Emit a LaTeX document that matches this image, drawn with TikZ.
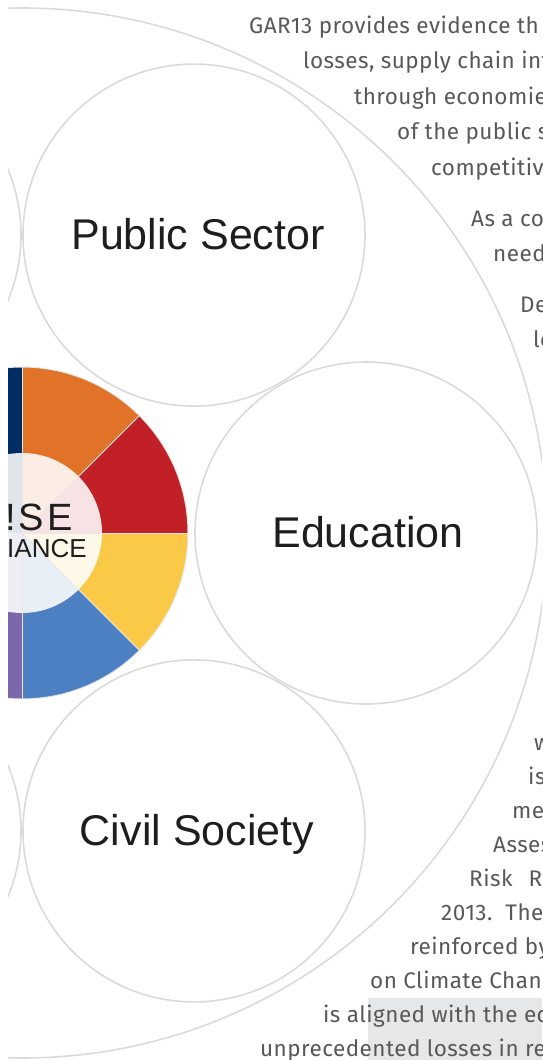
\documentclass[tikz,border=0pt]{standalone}
\usepackage{fontspec}
\setmainfont{Liberation Sans}
\newfontfamily\bodyfont[LetterSpace=2]{Fira Sans}
\usetikzlibrary{calc}
\definecolor{RingClr}{RGB}{218,218,218}
\definecolor{SepClr}{RGB}{232,232,232}
\definecolor{OrangeClr}{RGB}{225,115,41}
\definecolor{RedClr}{RGB}{192,32,38}
\definecolor{YellowClr}{RGB}{250,201,71}
\definecolor{BlueClr}{RGB}{77,128,194}
\definecolor{NavyClr}{RGB}{0,45,98}
\definecolor{PurpleClr}{RGB}{123,103,169}
\definecolor{LabelClr}{RGB}{30,30,30}
\definecolor{BodyClr}{RGB}{88,88,88}
\definecolor{MarkClr}{RGB}{230,231,233}

\tikzset{
  ring/.style={draw=RingClr,line width=1.6pt},
  sector label/.style={anchor=base,inner sep=0pt,text=LabelClr,font=\fontsize{43}{50}\selectfont},
  bodytext/.style={anchor=base west,inner sep=0pt,text=BodyClr,font=\bodyfont\fontsize{22.5}{27}\selectfont}
}

\begin{document}
\begin{tikzpicture}[x=1pt,y=-1pt]
\useasboundingbox (0,0) rectangle (542,1060);
\clip (8,0) rectangle (542,1060);

% centre of the wheel and the ring of circles
\coordinate (O) at (22,533);
\coordinate (P) at ($(O)+(-60:344)$);
\coordinate (E) at ($(O)+(0:344)$);
\coordinate (S) at ($(O)+(60:344)$);
\coordinate (L1) at ($(O)+(-120:344)$);
\coordinate (L2) at ($(O)+(120:344)$);

\fill[MarkClr] (368,998) rectangle (542,1060);

\draw[ring] (O) circle[radius=525];
\foreach \c in {P,E,S,L1,L2}
  \draw[ring] (\c) circle[radius=171];

% wheel
\foreach \a/\b/\clr in {-90/-45/OrangeClr,-45/0/RedClr,0/45/YellowClr,45/90/BlueClr,-180/-90/NavyClr,90/180/PurpleClr}
  \fill[\clr] (O) -- ++(\a:166) arc[start angle=\a,end angle=\b,radius=166] -- cycle;
\fill[white,fill opacity=.88] (O) circle[radius=80];
\foreach \a in {-90,-45,0,45,90}
  \draw[SepClr,line width=1pt] (O) -- ++(\a:166);
\draw[SepClr,line width=1pt] (O) circle[radius=166];

\node[anchor=base west,inner sep=0pt,text=LabelClr,font=\fontsize{38}{40}\selectfont\addfontfeature{LetterSpace=8}] (logoA) at (5,530) {!SE};
\node[anchor=base west,inner sep=0pt,text=LabelClr,font=\fontsize{26}{28}\selectfont] (logoB) at (7,557) {IANCE};

\node[sector label] (pub) at ($(P)+(4,14)$) {Public Sector};
\node[sector label] (edu) at ($(E)+(2,14)$) {Education};
\node[sector label] (civ) at ($(S)+(3,15)$) {Civil Society};

% text running round the big circle
\foreach \x/\y/\t [count=\i] in {
  249/33/{GAR13 provides evidence th},
  303/68.5/{losses, supply chain inte},
  354/104/{through economie},
  397/139.5/{of the public s},
  431/175/{competitive},
  471/226/{As a co},
  493/261/{needs},
  520/312/{De},
  533/347/{lo},
  534/750/{w},
  528/784/{is},
  512/818/{me},
  493/852/{Asses},
  469/886/{Risk\hspace{16pt}R},
  441/920/{2013.\hspace{13pt}The},
  410/954/{reinforced by},
  370/988/{on Climate Chan},
  323/1022/{is aligned with the ec},
  260/1056/{unprecedented losses in rec}}
  \node[bodytext] (line\i) at (\x,\y) {\t};

\end{tikzpicture}
\end{document}
